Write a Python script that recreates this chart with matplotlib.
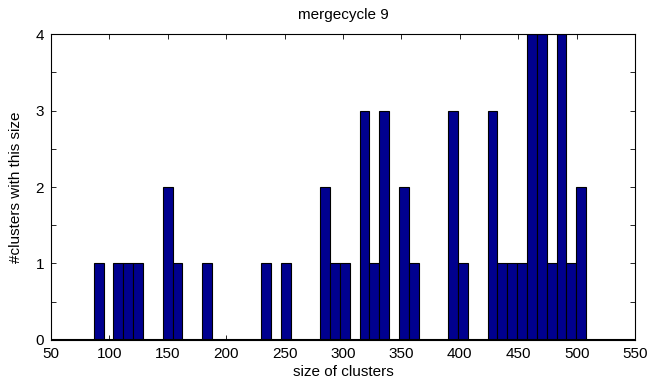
import matplotlib
matplotlib.use("Agg")
import matplotlib.pyplot as plt
import numpy as np

plt.rcParams['font.family'] = ['Liberation Sans', 'DejaVu Sans']

# histogram of cluster sizes, 50 bins between smallest and largest size
size_min = 86.6
size_max = 508.1
counts = [1, 0, 1, 1, 1, 0, 0, 2, 1, 0,
          0, 1, 0, 0, 0, 0, 0, 1, 0, 1,
          0, 0, 0, 2, 1, 1, 0, 3, 1, 3,
          0, 2, 1, 0, 0, 0, 3, 1, 0, 0,
          3, 1, 1, 1, 4, 4, 1, 4, 1, 2]
xticks = [50, 100, 150, 200, 250, 300, 350, 400, 450, 500, 550]
yticks = [0, 1, 2, 3, 4]

edges = np.linspace(size_min, size_max, len(counts) + 1)
width = edges[1] - edges[0]

fs = 11

fig = plt.figure(figsize=(6.52, 3.89), dpi=100)
ax = fig.add_axes([0.0782, 0.126, 0.8958, 0.7865])

ax.bar(edges[:-1], counts, width=width, align='edge',
       color=(0, 0, 0.5625), edgecolor='black', linewidth=0.8, zorder=2)
ax.axhline(0, color='black', linewidth=1.5, zorder=3)

ax.set_xlim(50, 550)
ax.set_ylim(0, 4)
ax.set_xticks(xticks)
ax.set_yticks(yticks)
ax.set_yticks(np.arange(0.5, 4, 1), minor=True)
ax.tick_params(which='both', direction='in', top=True, right=True,
               length=3.5, width=0.6, labelsize=fs)
ax.tick_params(axis='x', which='major', pad=5)
ax.tick_params(axis='y', which='major', pad=5)
for s in ax.spines.values():
    s.set_linewidth(0.8)

ax.set_title('mergecycle 9', fontsize=fs, pad=11)
ax.set_xlabel('size of clusters', fontsize=fs, labelpad=3)
ax.set_ylabel('#clusters with this size', fontsize=fs, labelpad=9)

fig.savefig('out.png', dpi=100)
